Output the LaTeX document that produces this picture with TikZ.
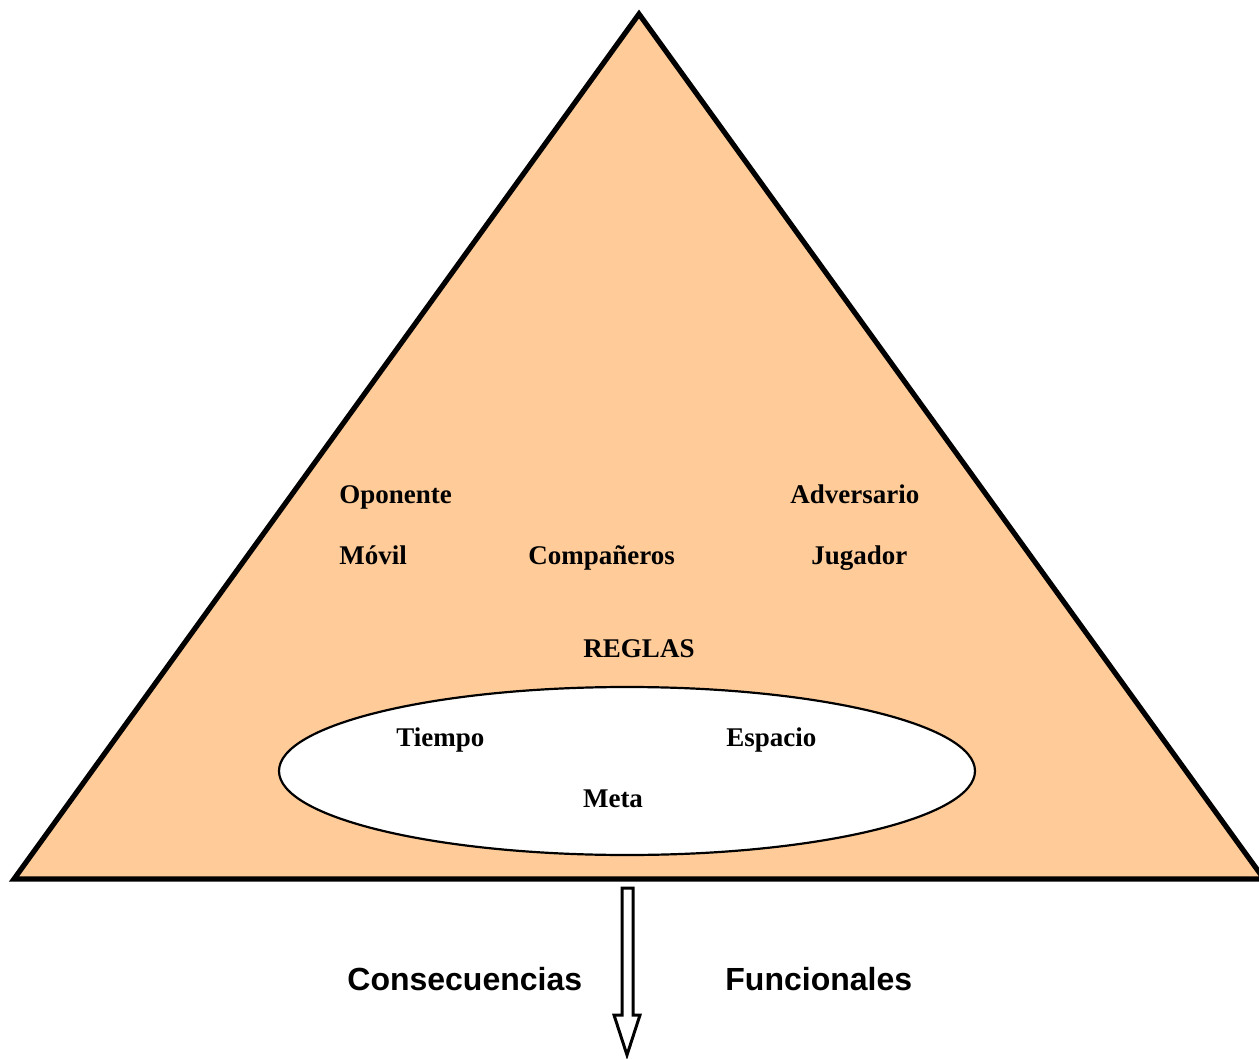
\documentclass[tikz,border=0pt]{standalone}
\usepackage{fontspec}
\setmainfont{Liberation Serif}
\newfontfamily\arialfont{Liberation Sans}
\definecolor{peach}{HTML}{FFCC99}
\begin{document}
\begin{tikzpicture}[x=0.5pt,y=-0.5pt,
  lbl/.style={font=\fontsize{13.5}{16}\selectfont\bfseries, inner sep=0pt, anchor=base west},
  big/.style={font=\arialfont\fontsize{16}{19}\selectfont\bfseries, inner sep=0pt, anchor=base west}]
\useasboundingbox (0,0) rectangle (1259,1059);
\fill[white] (0,0) rectangle (1259,1059);
\draw[line width=2.6pt, fill=peach, line join=miter] (639,14) -- (14,879) -- (1264,879) -- cycle;
\draw[line width=1.1pt, fill=white] (627,771) ellipse [x radius=348, y radius=84];
\node[lbl] (op) at (339,503) {Oponente};
\node[lbl] (ad) at (790,503) {Adversario};
\node[lbl] (mo) at (339,564) {Móvil};
\node[lbl] (co) at (528,564) {Compañeros};
\node[lbl] (ju) at (811,564) {Jugador};
\node[lbl, anchor=base] (re) at (639,657) {REGLAS};
\node[lbl] (ti) at (396,746) {Tiempo};
\node[lbl] (es) at (726,746) {Espacio};
\node[lbl, anchor=base] (me) at (613,807) {Meta};
\node[big] (cons) at (347,990) {Consecuencias};
\node[big] (fun) at (725,990) {Funcionales};
\draw[line width=1.5pt, fill=white, line join=miter]
  (622,888) -- (633,888) -- (633,1015) -- (640,1015) -- (627,1055) -- (614,1015) -- (622,1015) -- cycle;
\end{tikzpicture}
\end{document}
